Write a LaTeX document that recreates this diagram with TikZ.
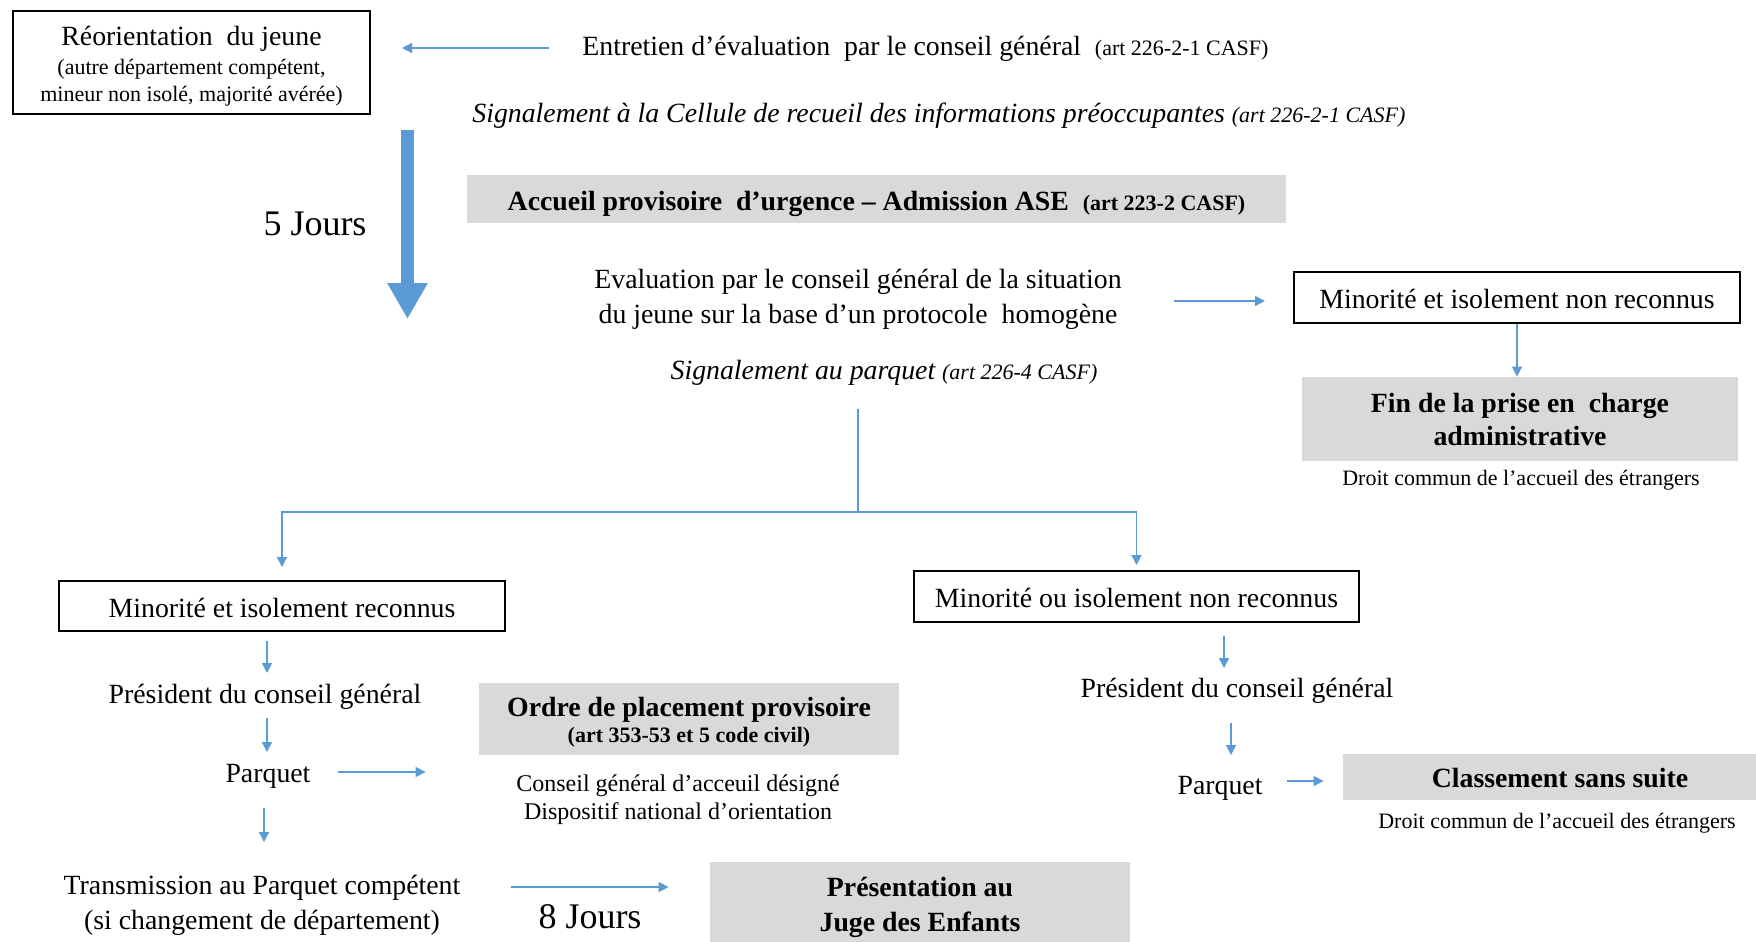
\documentclass[tikz,border=0pt]{standalone}
\usepackage{fontspec}
\setmainfont{Liberation Serif}
\usetikzlibrary{arrows.meta,calc}

\definecolor{flow}{HTML}{5B9BD5}
\definecolor{grisbox}{HTML}{D9D9D9}
\newcommand{\txt}{\fontsize{13.9}{17.4}\selectfont}
\newcommand{\gras}{\fontsize{13.9}{16.5}\selectfont\bfseries}
\newcommand{\petit}{\fontsize{11}{13.5}\selectfont}
\newcommand{\moyen}{\fontsize{12}{14}\selectfont}
\newcommand{\grand}{\fontsize{18}{20}\selectfont}

\begin{document}
\begin{tikzpicture}[x=0.5pt,y=-0.5pt,
    fl/.style={draw=flow,line width=0.75pt,-{Triangle[length=5pt,width=5pt]}},
    ligne/.style={draw=flow,line width=0.75pt},
    cadre/.style={draw=black,line width=1pt,inner sep=0pt,align=center,font=\txt},
    gris/.style={fill=grisbox,inner sep=0pt,align=center,font=\gras},
    lab/.style={inner sep=0pt,align=center,font=\txt}]

    \useasboundingbox (0,0) rectangle (1756,942);

    \node[cadre,font=\petit,minimum width=178.5pt,text height=45.2pt,text depth=6.3pt] (reor) at (191.5,62.5)
        {{\txt Réorientation\ \ du jeune}\\[1.2pt](autre département compétent,\\mineur non isolé, majorité avérée)};
    \node[lab,anchor=base west] (entretien) at (582,55)
        {Entretien d’évaluation\ \ par le conseil général~~{\petit (art 226-2-1 CASF)}};
    \draw[fl] ($(entretien.base west)+(-33,-7)$) -- ($(reor.east)+(31,-14.5)$);

    \node[lab,anchor=base west,font=\txt\itshape] (crip) at (472,122)
        {Signalement à la Cellule de recueil des informations préoccupantes {\petit (art 226-2-1 CASF)}};

    \coordinate (cinqhaut) at (407.5,130);
    \coordinate (cinqbas) at (407.5,319);
    \draw[flow,line width=6.5pt,-{Triangle[length=18pt,width=19pt]}] (cinqhaut) -- (cinqbas);
    \node[lab,anchor=base,font=\grand] (cinqj) at (315,235) {5 Jours};

    \node[gris,minimum width=409.5pt,text height=17.5pt,text depth=6.5pt] (accueil) at (876.5,199)
        {Accueil provisoire\ \ d’urgence -- Admission ASE\ \ {\petit (art 223-2 CASF)}};

    \node[lab] (evaluation) at (858,299)
        {Evaluation par le conseil général de la situation\\du jeune sur la base d’un protocole\ \ homogène};
    \node[cadre,minimum width=223pt,text height=18pt,text depth=7.5pt] (nonrec) at (1517,297.5)
        {Minorité et isolement non reconnus};
    \draw[fl] ($(evaluation.east)+(51.5,2)$) -- ($(nonrec.west)+(-28,3.5)$);
    \node[gris,minimum width=218pt,text height=34pt,text depth=8pt] (fin) at (1520,419)
        {Fin de la prise en\ \ charge\\administrative};
    \draw[fl] (nonrec.south) -- (nonrec.south |- fin.north);
    \node[lab,anchor=base,font=\petit] (droitA) at (1521,485) {Droit commun de l’accueil des étrangers};

    \node[lab,anchor=base,font=\txt\itshape] (sigparquet) at (884,379)
        {Signalement au parquet {\petit (art 226-4 CASF)}};
    \coordinate (split) at (858,512);
    \draw[ligne] ($(sigparquet.base)+(-26,30)$) -- (split);

    \node[cadre,minimum width=223pt,text height=18pt,text depth=7pt] (recon) at (282,606)
        {Minorité et isolement reconnus};
    \node[cadre,minimum width=222.5pt,text height=18pt,text depth=7.5pt] (nonrecB) at (1136.5,596.5)
        {Minorité ou isolement non reconnus};
    \draw[fl,shorten >=6.5pt] (split) -| (recon.north);
    \draw[fl,shorten >=2.5pt] (split) -| (nonrecB.north);

    \node[lab,anchor=base] (presL) at (265,703) {Président du conseil général};
    \draw[fl] ($(recon.south)+(-15,9)$) -- ($(presL.base)+(2,-30)$);
    \node[lab,anchor=base] (parqL) at (268,782) {Parquet};
    \draw[fl] ($(presL.base)+(2,15)$) -- ($(parqL.base)+(-1,-30)$);
    \node[gris,minimum width=210pt,text height=29.5pt,text depth=6.5pt] (ordre) at (689,719)
        {Ordre de placement provisoire\\[-3.5pt]{\petit (art 353-53 et 5 code civil)}};
    \draw[fl] ($(parqL.base)+(70,-10)$) -- ($(ordre.west)+(-53,53)$);
    \node[lab,font=\moyen] (cgaccueil) at (678,800)
        {Conseil général d’acceuil désigné\\Dispositif national d’orientation};

    \node[lab] (transL) at (262,905)
        {Transmission au Parquet compétent\\(si changement de département)};
    \draw[fl] ($(parqL.base)+(-4,26)$) -- ($(parqL.base)+(-4,60)$);
    \node[lab,anchor=base,font=\grand] (huitj) at (590,928) {8 Jours};
    \node[gris,minimum width=210pt,text height=34.5pt,text depth=5.5pt] (presentation) at (920,902)
        {Présentation au\\[0.6pt]Juge des Enfants};
    \draw[fl] ($(transL.east)+(50,-18)$) -- ($(presentation.west)+(-41,-15)$);

    \node[lab,anchor=base] (presR) at (1237,697) {Président du conseil général};
    \draw[fl] ($(nonrecB.south)+(87.5,13)$) -- ($(presR.base)+(-13,-29)$);
    \node[lab,anchor=base] (parqR) at (1220,794) {Parquet};
    \draw[fl] ($(presR.base)+(-6,26)$) -- ($(parqR.base)+(11,-39)$);
    \node[gris,minimum width=217pt,text height=16.5pt,text depth=6.5pt] (classement) at (1560,777)
        {Classement sans suite};
    \draw[fl] ($(parqR.base)+(67,-13)$) -- ($(classement.west)+(-19,4)$);
    \node[lab,anchor=base,font=\petit] (droitB) at (1557,828) {Droit commun de l’accueil des étrangers};
\end{tikzpicture}
\end{document}
